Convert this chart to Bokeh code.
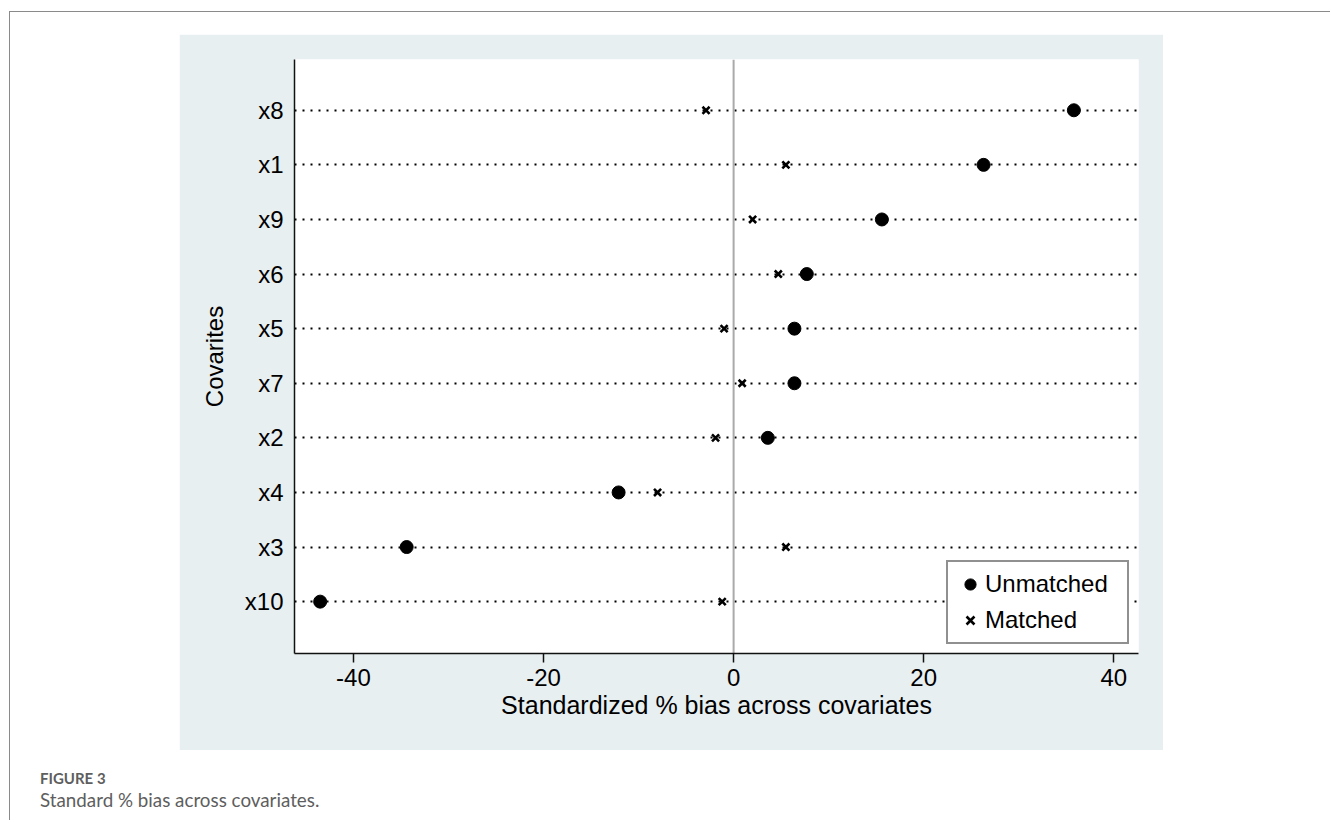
from bokeh.plotting import figure
from bokeh.models import Range1d, FixedTicker, Span, Div, Spacer
from bokeh.layouts import column, row
from bokeh.embed import file_html
from bokeh.resources import INLINE

# ---- data (top to bottom as in the chart) ----
covariates = ["x8", "x1", "x9", "x6", "x5", "x7", "x2", "x4", "x3", "x10"]
unmatched = [35.8, 26.3, 15.6, 7.7, 6.4, 6.4, 3.6, -12.1, -34.4, -43.5]
matched = [-2.9, 5.5, 2.0, 4.7, -1.0, 0.9, -1.9, -8.0, 5.5, -1.2]
x_ticks = [-40, -20, 0, 20, 40]
x_tick_labels = ["-40", "-20", "0", "20", "40"]

positions = list(range(len(covariates), 0, -1))  # top item has the highest position
label_map = {pos: name for pos, name in zip(positions, covariates)}

PANEL = "#e8eff1"
FONT = "Liberation Sans"

p = figure(
    width=984, height=716,
    x_range=Range1d(-46.2, 42.6), y_range=Range1d(0.05, 10.93),
    output_backend="svg", toolbar_location=None,
    min_border_left=115, min_border_right=25, min_border_top=25, min_border_bottom=97,
    border_fill_color=PANEL, background_fill_color="white", outline_line_color=None,
)

# axes
p.xaxis.ticker = FixedTicker(ticks=x_ticks)
p.xaxis.major_label_overrides = dict(zip(x_ticks, x_tick_labels))
p.yaxis.ticker = FixedTicker(ticks=positions)
p.yaxis.major_label_overrides = label_map
for ax in (p.xaxis[0], p.yaxis[0]):
    ax.axis_line_color = "#111111"
    ax.axis_line_width = 1.5
    ax.major_tick_line_color = "#111111"
    ax.major_tick_line_width = 1.5
    ax.minor_tick_line_color = None
    ax.major_label_text_font = FONT
    ax.major_label_text_font_size = "24px"
    ax.major_label_text_color = "black"
    ax.axis_label_text_font = FONT
    ax.axis_label_text_font_style = "normal"
    ax.axis_label_text_color = "black"
p.xaxis.major_tick_out = 9
p.xaxis.major_tick_in = 0
p.xaxis.major_label_standoff = 6
p.xaxis.axis_label = "Standardized % bias across covariates"
p.xaxis.axis_label_text_font_size = "25px"
p.xaxis.axis_label_standoff = 2
p.yaxis.major_tick_out = 0
p.yaxis.major_tick_in = 0
p.yaxis.major_label_standoff = 11
p.yaxis.axis_label = "Covarites"
p.yaxis.axis_label_text_font_size = "24px"
p.yaxis.axis_label_standoff = 14

# grid: dotted horizontal lines at each covariate
p.xgrid.visible = False
p.ygrid.grid_line_color = "black"
p.ygrid.grid_line_width = 1.8
p.ygrid.grid_line_dash = "2 6"
p.ygrid.grid_line_alpha = 1.0

# zero reference line
p.add_layout(Span(location=0, dimension="height", line_color="#aaaaaa",
                  line_width=2, level="underlay"))

# markers
p.scatter(unmatched, positions, marker="circle", size=13, color="black",
          legend_label="Unmatched")
p.scatter(matched, positions, marker="x", size=10, line_color="black",
          line_width=2.6, legend_label="Matched")

lg = p.legend[0]
lg.location = "bottom_right"
lg.margin = 9
lg.padding = 8
lg.spacing = 8
lg.glyph_width = 28
lg.glyph_height = 28
lg.label_height = 28
lg.label_width = 134
lg.label_standoff = 1
lg.label_text_font = FONT
lg.label_text_font_size = "24px"
lg.label_text_color = "black"
lg.border_line_color = "#222222"
lg.border_line_width = 2
lg.background_fill_color = "white"
lg.background_fill_alpha = 1.0

caption = Div(
    text=(
        '<div style="padding-left:30px;padding-top:19px;font-family:Lato,\'Open Sans\',sans-serif;color:#5e5e5e;">'
        '<div style="font-weight:bold;font-size:15px;line-height:18px;">FIGURE 3</div>'
        '<div style="font-size:18.8px;line-height:26px;">Standard % bias across covariates.</div>'
        '</div>'
    ),
    width=1300, height=70, margin=0,
)

layout = column(
    Spacer(height=22, margin=0),
    row(Spacer(width=169, margin=0), p, margin=0, spacing=0),
    caption,
    margin=(11, 0, 0, 9), spacing=0, width=1321,
    styles={"border-top": "1px solid #8a8a8a", "border-left": "1px solid #8a8a8a"},
)

open("out.html", "w").write(file_html(layout, INLINE))
